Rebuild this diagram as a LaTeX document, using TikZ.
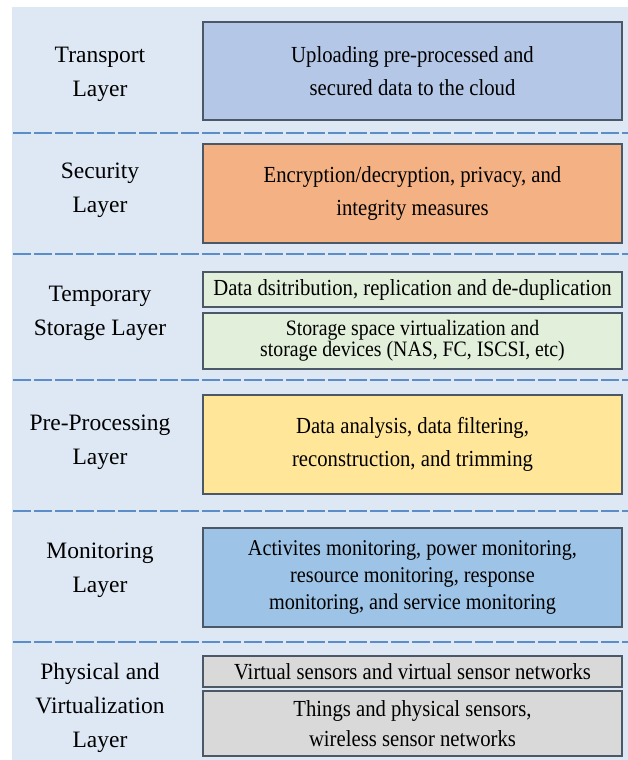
\documentclass[tikz,border=0pt]{standalone}
\usepackage{fontspec}
\setmainfont{Liberation Serif}
\newfontfamily\labelfont{Liberation Serif}
\newfontfamily\boxfont[FakeStretch=0.9]{Liberation Serif}
\usepackage{tikz}

\definecolor{panelbg}{HTML}{DEE8F4}
\definecolor{sepblue}{HTML}{5B8DC8}
\definecolor{boxline}{HTML}{4A5868}
\definecolor{transportfill}{HTML}{B4C7E7}
\definecolor{securityfill}{HTML}{F4B183}
\definecolor{storagefill}{HTML}{E2EFDA}
\definecolor{processfill}{HTML}{FFE699}
\definecolor{monitorfill}{HTML}{9DC3E6}
\definecolor{physicalfill}{HTML}{D9D9D9}

\begin{document}
\begin{tikzpicture}[x=1pt, y=-1pt,
        layerlabel/.style={align=center, font=\labelfont\fontsize{23.5}{34}\selectfont},
        layerbox/.style={draw=boxline, line width=1.4pt, minimum width=419pt, inner sep=0pt,
            align=center, font=\boxfont\fontsize{23}{33}\selectfont},
        separator/.style={sepblue, line width=2.2pt, dash pattern=on 18pt off 3pt}]
        \useasboundingbox (0, 0) rectangle (628, 760);
        \fill[panelbg] (12, 7) rectangle (628, 760);
        \foreach \y in {133, 254, 380, 511, 642}
            \draw[separator] (13, \y) -- (628, \y);

        \node[layerlabel] (Ltransport) at (100, 74) {Transport\\Layer};
        \node[layerbox, fill=transportfill, minimum height=98pt] (Btransport) at (412.5, 71)
            {Uploading pre-processed and\\secured data to the cloud};

        \node[layerlabel] (Lsecurity) at (100, 190) {Security\\Layer};
        \node[layerbox, fill=securityfill, minimum height=99pt] (Bsecurity) at (412.5, 193.5)
            {Encryption/decryption, privacy, and\\integrity measures};

        \node[layerlabel] (Lstorage) at (100, 313.5) {Temporary\\Storage Layer};
        \node[layerbox, fill=storagefill, minimum height=35pt] (Bstorage1) at (412.5, 289.5)
            {Data dsitribution, replication and de-duplication};
        \node[layerbox, fill=storagefill, minimum height=56pt, font=\boxfont\fontsize{22}{20}\selectfont] (Bstorage2) at (412.5, 341)
            {Storage space virtualization and\\storage devices (NAS, FC, ISCSI, etc)};

        \node[layerlabel] (Lprocess) at (100, 442.5) {Pre-Processing\\Layer};
        \node[layerbox, fill=processfill, minimum height=99pt] (Bprocess) at (412.5, 444.5)
            {Data analysis, data filtering,\\reconstruction, and trimming};

        \node[layerlabel] (Lmonitor) at (100, 570.5) {Monitoring\\Layer};
        \node[layerbox, fill=monitorfill, minimum height=99pt, font=\boxfont\fontsize{22.5}{27}\selectfont] (Bmonitor) at (412.5, 577.5)
            {Activites monitoring, power monitoring,\\resource monitoring, response\\monitoring, and service monitoring};

        \node[layerlabel] (Lphysical) at (100, 707.5) {Physical and\\Virtualization\\Layer};
        \node[layerbox, fill=physicalfill, minimum height=31pt] (Bphysical1) at (412.5, 671.5)
            {Virtual sensors and virtual sensor networks};
        \node[layerbox, fill=physicalfill, minimum height=65pt, font=\boxfont\fontsize{23}{30}\selectfont] (Bphysical2) at (412.5, 723.5)
            {Things and physical sensors,\\wireless sensor networks};
    \end{tikzpicture}
\end{document}
